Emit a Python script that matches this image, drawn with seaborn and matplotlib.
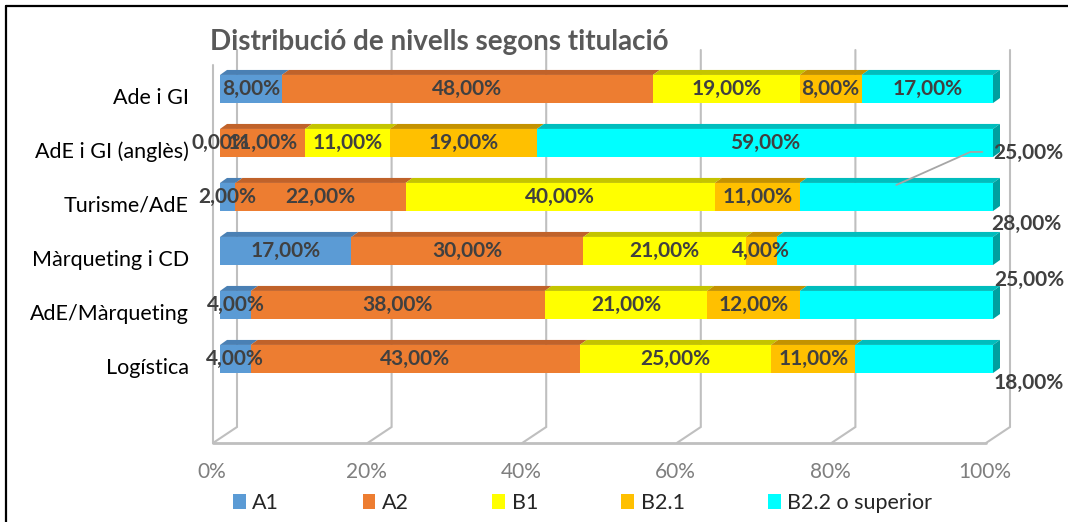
import numpy as np
import pandas as pd
import matplotlib
matplotlib.use("Agg")
import matplotlib.pyplot as plt
import seaborn as sns
from matplotlib.patches import Polygon, Patch
from matplotlib.lines import Line2D
import matplotlib.transforms as mtransforms

# ---------------- data ----------------
categories = ["Ade i GI", "AdE i GI (anglès)", "Turisme/AdE",
              "Màrqueting i CD", "AdE/Màrqueting", "Logística"]
levels = ["A1", "A2", "B1", "B2.1", "B2.2 o superior"]
a1 = [8, 0, 2, 17, 4, 4]
a2 = [48, 11, 22, 30, 38, 43]
b1 = [19, 11, 40, 21, 21, 25]
b21 = [8, 19, 11, 4, 12, 11]
b22 = [17, 59, 25, 28, 25, 18]
x_ticks = [0, 20, 40, 60, 80, 100]
x_tick_labels = ["0%", "20%", "40%", "60%", "80%", "100%"]
title = "Distribució de nivells segons titulació"

front_colors = ["#5B9BD5", "#ED7D31", "#FFFF00", "#FFC000", "#00FFFF"]
top_colors = ["#4A80B4", "#C0622A", "#C4C400", "#C49200", "#00BDBD"]
side_color = "#00A0A0"
grid_color = "#BFBFBF"
label_color = "#404040"

# ---------------- prep ----------------
raw = np.array([a1, a2, b1, b21, b22], dtype=float)  # levels x categories
share = raw / raw.sum(axis=0) * 100
cum = np.cumsum(share, axis=0)
df = pd.DataFrame({"cat": categories})
for k in range(len(levels)):
    df[f"cum{k}"] = cum[k]

sns.set_theme(style="white")
plt.rcParams["font.family"] = ["Lato", "DejaVu Sans"]

W, H = 1068, 522
fig = plt.figure(figsize=(W / 100, H / 100), dpi=100)
ax = fig.add_axes([220 / W, 79 / H, 773 / W, 393 / H])

bar_w = 0.52
for k in reversed(range(len(levels))):
    sns.barplot(data=df, x=f"cum{k}", y="cat", order=categories, orient="h",
                color=front_colors[k], saturation=1, width=bar_w, errorbar=None,
                linewidth=0, edgecolor="none", zorder=3, ax=ax)

ax.set_xlim(0, 100)
ax.set_ylim(6.556, -0.722)
for s in ax.spines.values():
    s.set_visible(False)
ax.set_xlabel("")
ax.set_ylabel("")
ax.grid(False)


def off(x, y, dx, dy):
    X, Y = ax.transData.transform((x, y))
    return tuple(ax.transData.inverted().transform((X + dx, Y + dy)))


# ---------------- 3D-ish walls ----------------
ybot = 6.556
for v in x_ticks:
    p_top = off(v, -0.722, 17, 0)
    p_back = off(v, ybot, 17, 16)
    p_front = off(v, ybot, -7, 0)
    ax.plot([p_top[0], p_back[0], p_front[0]], [p_top[1], p_back[1], p_front[1]],
            color=grid_color, lw=1.5, zorder=1, clip_on=False, solid_joinstyle="miter")
f0 = off(0, ybot, -7, 0)
f1 = off(100, ybot, -7, 0)
ax.plot([f0[0], f1[0]], [f0[1], f1[1]], color=grid_color, lw=2, zorder=1, clip_on=False)
l_top = off(0, -0.722, -7, -15)
ax.plot([f0[0], l_top[0]], [f0[1], l_top[1]], color=grid_color, lw=1.5, zorder=1, clip_on=False)

# ---------------- 3D faces ----------------
dx, dy = 7, 5
for i in range(len(categories)):
    ytop = i - bar_w / 2
    ybt = i + bar_w / 2
    for k in range(len(levels)):
        start = cum[k - 1][i] if k > 0 else 0.0
        end = cum[k][i]
        if end - start <= 0:
            continue
        pts = [(start, ytop), (end, ytop), off(end, ytop, dx, dy), off(start, ytop, dx, dy)]
        ax.add_patch(Polygon(pts, closed=True, facecolor=top_colors[k], edgecolor="none",
                             zorder=4, clip_on=False))
    pts = [(100, ybt), (100, ytop), off(100, ytop, dx, dy), off(100, ybt, dx, dy)]
    ax.add_patch(Polygon(pts, closed=True, facecolor=side_color, edgecolor="none",
                         zorder=4, clip_on=False))

# ---------------- data labels ----------------
outside = {2: (35, 44), 3: (33, 27), 4: (36, 25), 5: (36, -24)}
lab_kw = dict(fontsize=15, fontweight="bold", color=label_color, ha="center", va="center", zorder=6)
for i in range(len(categories)):
    for k in range(len(levels)):
        start = cum[k - 1][i] if k > 0 else 0.0
        end = cum[k][i]
        txt = f"{raw[k][i]:.2f}%".replace(".", ",")
        if k == 4 and i in outside:
            ox, oy = outside[i]
            ax.annotate(txt, xy=(100, i), xytext=(ox, oy), textcoords="offset pixels",
                        annotation_clip=False, **lab_kw)
        else:
            ax.text((start + end) / 2, i, txt, **lab_kw)

# leader line for Turisme/AdE
i = 2
mid = (cum[3][i] + cum[4][i]) / 2
p0 = off(mid, i - bar_w / 2, 0, -2)
p1 = off(mid, i - bar_w / 2, 74, 31)
p2 = off(mid, i - bar_w / 2, 86, 31)
ax.plot([p0[0], p1[0], p2[0]], [p0[1], p1[1], p2[1]], color="#A6A6A6", lw=1.3,
        zorder=6, clip_on=False)

# ---------------- ticks ----------------
ax.set_yticks(range(len(categories)), categories)
ax.tick_params(axis="y", length=0, pad=31 * 0.72, labelsize=15.5, labelcolor="black")
for t in ax.get_yticklabels():
    t.set_transform(t.get_transform() + mtransforms.ScaledTranslation(0, -7 / 100, fig.dpi_scale_trans))
ax.set_xticks(x_ticks, x_tick_labels)
ax.tick_params(axis="x", length=0, pad=19 * 0.72, labelsize=15, labelcolor="#7F7F7F")
for t in ax.get_xticklabels():
    t.set_transform(t.get_transform() + mtransforms.ScaledTranslation(-8 / 100, 0, fig.dpi_scale_trans))

# ---------------- title / legend / border ----------------
fig.text(210 / W, 1 - 42 / H, title, ha="left", va="center", fontsize=20,
         fontweight="bold", color="#595959")

handles = [Patch(facecolor=c, edgecolor="none") for c in front_colors]
fig.legend(handles, levels, loc="center left", bbox_to_anchor=(233 / W, 1 - 503 / H),
           ncol=5, frameon=False, fontsize=15.5, handlelength=0.6, handleheight=0.72,
           handletextpad=0.3, columnspacing=3.87, borderpad=0, borderaxespad=0)

fig.add_artist(Line2D([6 / W, 6 / W], [0, 1 - 6 / H], transform=fig.transFigure,
                      color="black", lw=1.6))
fig.add_artist(Line2D([6 / W, 1], [1 - 6 / H, 1 - 6 / H], transform=fig.transFigure,
                      color="black", lw=1.6))

fig.savefig("out.png", dpi=100)
